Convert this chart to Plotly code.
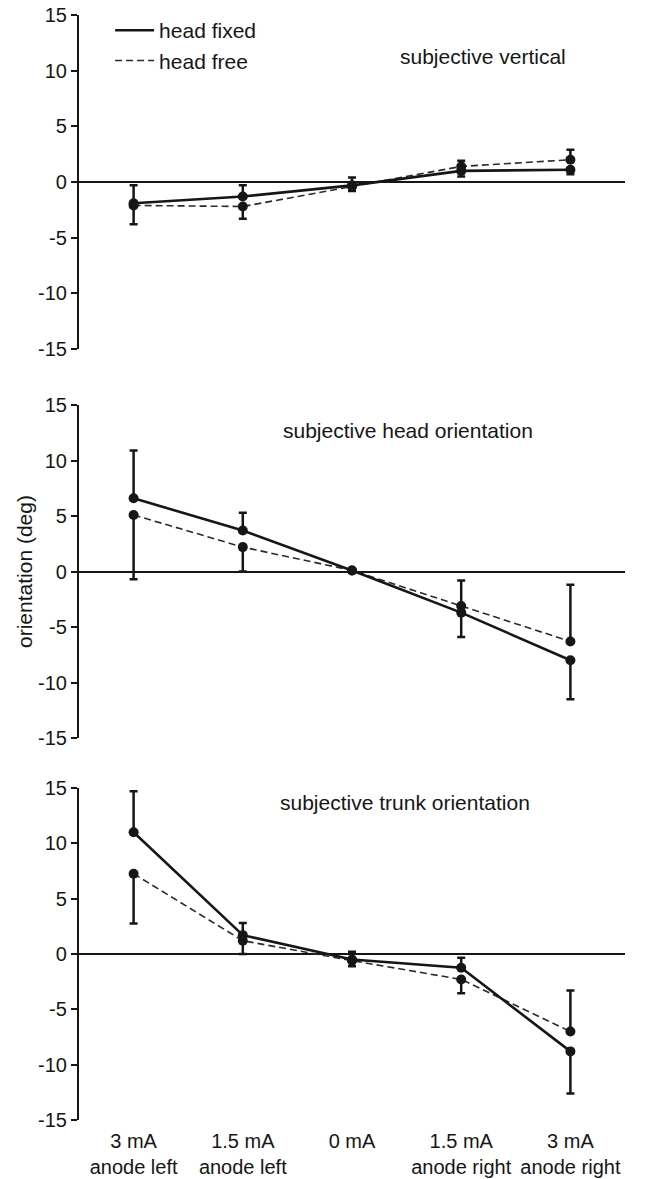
import plotly.graph_objects as go
from plotly.subplots import make_subplots

categories = ["3 mA<br>anode left", "1.5 mA<br>anode left", "0 mA",
              "1.5 mA<br>anode right", "3 mA<br>anode right"]
panel_titles = ["subjective vertical", "subjective head orientation",
                "subjective trunk orientation"]
y_ticks = [-15, -10, -5, 0, 5, 10, 15]
y_ticktext = ["-15", "-10", "-5", "0", "5", "10", "15"]

# subjective vertical
vert_fixed = [-1.9, -1.3, -0.3, 1.0, 1.1]
vert_fixed_plus = [1.6, 1.0, 0.7, 0.0, 0.0]
vert_fixed_minus = [0.0, 0.0, 0.0, 0.5, 0.4]
vert_free = [-2.1, -2.2, -0.4, 1.4, 2.0]
vert_free_plus = [0.0, 0.0, 0.0, 0.5, 0.9]
vert_free_minus = [1.7, 1.1, 0.4, 0.0, 0.0]

# subjective head orientation
head_fixed = [6.6, 3.7, 0.1, -3.7, -8.0]
head_fixed_plus = [4.3, 1.6, 0.0, 0.0, 0.0]
head_fixed_minus = [0.0, 0.0, 0.0, 2.2, 3.5]
head_free = [5.1, 2.2, 0.1, -3.1, -6.3]
head_free_plus = [0.0, 0.0, 0.0, 2.3, 5.1]
head_free_minus = [5.8, 2.2, 0.0, 0.0, 0.0]

# subjective trunk orientation
trunk_fixed = [11.0, 1.7, -0.5, -1.25, -8.8]
trunk_fixed_plus = [3.7, 1.1, 0.7, 0.9, 0.0]
trunk_fixed_minus = [0.0, 0.0, 0.0, 0.0, 3.8]
trunk_free = [7.25, 1.2, -0.6, -2.3, -7.0]
trunk_free_plus = [0.0, 0.0, 0.0, 0.0, 3.7]
trunk_free_minus = [4.5, 1.2, 0.5, 1.25, 0.0]

INK = "#161616"
FONT = "Liberation Sans, Arial, Helvetica, sans-serif"

fig = make_subplots(rows=3, cols=1)

panels = [
    (vert_fixed, vert_fixed_plus, vert_fixed_minus, vert_free, vert_free_plus, vert_free_minus),
    (head_fixed, head_fixed_plus, head_fixed_minus, head_free, head_free_plus, head_free_minus),
    (trunk_fixed, trunk_fixed_plus, trunk_fixed_minus, trunk_free, trunk_free_plus, trunk_free_minus),
]

for i, (fx, fxp, fxm, fr, frp, frm) in enumerate(panels, start=1):
    fig.add_trace(go.Scatter(
        x=categories, y=fr, mode="lines+markers", showlegend=False,
        line=dict(color="#2a2a2a", width=1.6, dash="7px,4px"),
        marker=dict(color=INK, size=10),
        error_y=dict(type="data", symmetric=False, array=frp, arrayminus=frm,
                     color=INK, thickness=2.5, width=4),
    ), row=i, col=1)
    fig.add_trace(go.Scatter(
        x=categories, y=fx, mode="lines+markers", showlegend=False,
        line=dict(color=INK, width=2.6),
        marker=dict(color=INK, size=10),
        error_y=dict(type="data", symmetric=False, array=fxp, arrayminus=fxm,
                     color=INK, thickness=2.5, width=4),
    ), row=i, col=1)

# legend entries
fig.add_trace(go.Scatter(x=[None], y=[None], mode="lines", name="head fixed",
                         line=dict(color=INK, width=2.6)), row=1, col=1)
fig.add_trace(go.Scatter(x=[None], y=[None], mode="lines", name="head free",
                         line=dict(color="#2a2a2a", width=1.6, dash="7px,4px")), row=1, col=1)

domains = [[0.6977, 1.0], [0.3457, 0.647], [0.0, 0.3005]]
for i in range(1, 4):
    fig.update_xaxes(row=i, col=1, type="category", range=[-0.5, 4.5],
                     showgrid=False, zeroline=False, showline=False, automargin=False,
                     ticks="", showticklabels=(i == 3),
                     tickfont=dict(family=FONT, size=20, color=INK),
                     ticklabelstandoff=7)
    fig.update_yaxes(row=i, col=1, domain=domains[i - 1], range=[-15, 15],
                     tickvals=y_ticks, ticktext=y_ticktext, automargin=False,
                     showgrid=False, showline=True, linecolor=INK, linewidth=2.2,
                     ticks="outside", ticklen=6, tickwidth=2, tickcolor=INK,
                     zeroline=True, zerolinecolor=INK, zerolinewidth=2.2,
                     tickfont=dict(family=FONT, size=20, color=INK))

fig.update_yaxes(row=2, col=1, title=dict(text="orientation (deg)", standoff=0,
                                          font=dict(family=FONT, size=21, color=INK)))

title_pos = [(0.740, 0.962), (0.6026, 0.6244), (0.597, 0.2869)]
for t, (ax, ay) in zip(panel_titles, title_pos):
    fig.add_annotation(text=t, x=ax, y=ay, xref="paper", yref="paper",
                       showarrow=False, xanchor="center", yanchor="middle",
                       font=dict(family=FONT, size=21, color=INK))

fig.update_layout(
    width=647, height=1179,
    margin=dict(l=79, r=22, t=15, b=59, autoexpand=False),
    paper_bgcolor="white", plot_bgcolor="white",
    font=dict(family=FONT, size=20, color=INK),
    legend=dict(x=0.057, y=1.0045, xanchor="left", yanchor="top",
                bgcolor="rgba(0,0,0,0)", font=dict(family=FONT, size=21, color=INK),
                itemwidth=39, tracegroupgap=0),
)

fig.write_html("out.html", config={"displayModeBar": False},
               post_script="document.body.style.margin='0';")
